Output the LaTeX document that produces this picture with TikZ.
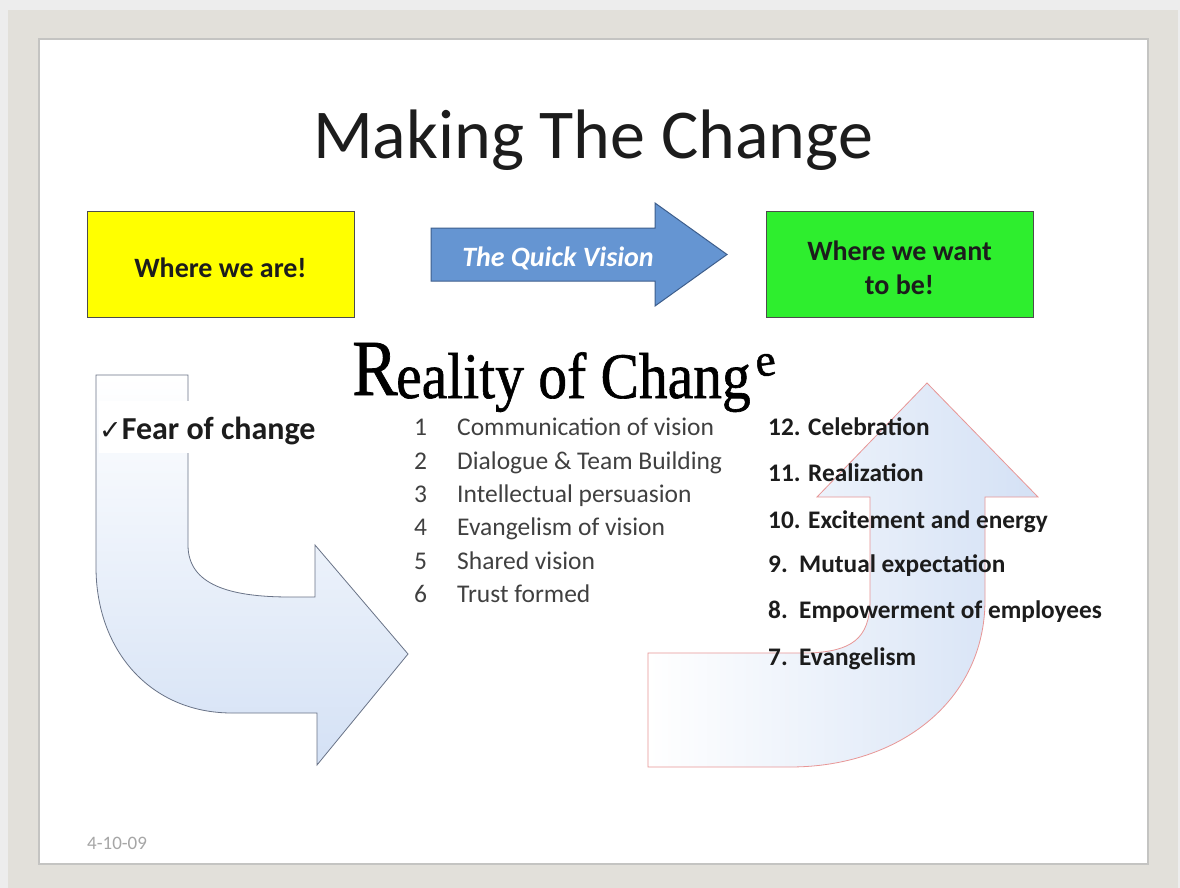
\documentclass[tikz,border=0pt]{standalone}
\usepackage{fontspec}
\setmainfont{Carlito}
\newfontfamily\symfont{DejaVu Sans}
\newfontfamily\artfont[FakeBold=1]{Liberation Serif}
\definecolor{framegray}{RGB}{226,224,218}
\definecolor{edgegray}{RGB}{196,196,194}
\definecolor{boxyellow}{RGB}{255,255,0}
\definecolor{boxgreen}{RGB}{46,238,46}
\definecolor{visionblue}{RGB}{101,149,210}
\definecolor{visionedge}{RGB}{62,94,140}
\definecolor{textdark}{RGB}{28,28,28}
\definecolor{listgray}{RGB}{64,64,64}
\definecolor{paleblue}{RGB}{212,225,245}
\definecolor{curveedge}{RGB}{105,115,135}
\definecolor{pinkedge}{RGB}{232,150,150}
% lower a line of text without changing its box
\newcommand{\lowered}[1]{\raisebox{-4pt}[\height][\depth]{#1}}
\tikzset{
  box/.style={
    rectangle,
    draw=black!70,
    line width=1pt,
    align=center,
    minimum width=267pt,
    minimum height=106pt,
    inner sep=0pt,
    text=textdark,
    font=\fontsize{28}{34}\selectfont\bfseries
  },
  bentarrow/.style={
    draw=curveedge,
    line width=0.8pt,
    top color=white,
    bottom color=paleblue
  },
  risearrow/.style={
    draw=pinkedge,
    line width=0.8pt,
    left color=white,
    right color=paleblue
  },
  artword/.style={
    anchor=base west,
    inner sep=0pt,
    text=black
  },
  stepline/.style={
    anchor=west,
    inner sep=0pt,
    text height=0.7em,
    text depth=0.2em,
    text=listgray,
    font=\fontsize{25.5}{30}\selectfont
  },
  boldline/.style={
    stepline,
    text=textdark,
    font=\fontsize{25.3}{30}\selectfont\bfseries
  }
}

\begin{document}
\begin{tikzpicture}[x=1pt,y=-1pt]
    \useasboundingbox (0,0) rectangle (1180,888);
    % frame around the slide
    \fill[black!7] (0,0) rectangle (1180,888);
    \fill[framegray] (8,10) rectangle (1178,888);
    \draw[edgegray, line width=1.5pt, fill=white] (39,39) rectangle (1148,864);

    \node[font=\fontsize{70}{80}\selectfont, text=textdark] (title) at (593,140) {Making The Change};

    \node[box, fill=boxyellow] (now) at (220.5,264) {\lowered{Where we are!}};
    \node[box, fill=boxgreen] (goal) at (899.5,264) {\lowered{Where we want}\\\lowered{to be!}};

    \draw[visionedge, line width=1pt, fill=visionblue]
      (431,228) -- (655,228) -- (655,203) -- (727,254.5) -- (655,306) -- (655,281) -- (431,281) -- cycle;
    \node[text=white, font=\fontsize{28}{34}\selectfont\bfseries\itshape] (vision) at (558,258) {The Quick Vision};

    % wordart heading: big R, stretched middle, small raised e
    \node[artword, font=\artfont\fontsize{68}{68}\selectfont] (artR) at (352,395) {\scalebox{1}[1.17]{R}};
    \node[artword, font=\artfont\fontsize{57.5}{58}\selectfont] (artmid) at (396,398) {\scalebox{1}[1.13]{eality of Chang}};
    \node[artword, font=\artfont\fontsize{46}{46}\selectfont, rotate=8] (arte) at (757,377) {e};

    % down-and-right arrow
    \draw[bentarrow] (96,375) -- (188,375) -- (188,545)
      .. controls (188,585) and (230,597) .. (290,597) -- (315,597) -- (315,545)
      -- (408,654) -- (317,765) -- (317,713) -- (232,713)
      .. controls (150,713) and (96,650) .. (96,567) -- cycle;
    \node[anchor=west, fill=white, inner sep=0pt, minimum height=52pt, text=textdark,
      font=\fontsize{32}{36}\selectfont\bfseries] (fear) at (99,427)
      {\lowered{{\symfont\fontsize{27}{30}\selectfont ✓}Fear of change}};

    % right-and-up arrow
    \draw[risearrow] (648,653) -- (810,653)
      .. controls (850,651) and (870,640) .. (870,600) -- (870,497) -- (817,497)
      -- (927,383) -- (1038,497) -- (985,497) -- (985,600)
      .. controls (985,700) and (900,767) .. (790,767) -- (648,767) -- cycle;

    \node[stepline] (s1) at (414,433) {\makebox[43pt][l]{1}Communication of vision};
    \node[stepline] (s2) at (414,467) {\makebox[43pt][l]{2}Dialogue \& Team Building};
    \node[stepline] (s3) at (414,500) {\makebox[43pt][l]{3}Intellectual persuasion};
    \node[stepline] (s4) at (414,533) {\makebox[43pt][l]{4}Evangelism of vision};
    \node[stepline] (s5) at (414,567) {\makebox[43pt][l]{5}Shared vision};
    \node[stepline] (s6) at (414,600) {\makebox[43pt][l]{6}Trust formed};

    \node[boldline] (s12) at (768,433) {12. Celebration};
    \node[boldline] (s11) at (768,479) {11. Realization};
    \node[boldline] (s10) at (768,526) {10. Excitement and energy};
    \node[boldline] (s9) at (768,570) {9.\ \ Mutual expectation};
    \node[boldline] (s8) at (768,616) {8.\ \ Empowerment of employees};
    \node[boldline] (s7) at (768,663) {7.\ \ Evangelism};

    \node[anchor=west, inner sep=0pt, text=black!35, font=\fontsize{19}{21}\selectfont] (date) at (87,843) {4-10-09};
\end{tikzpicture}
\end{document}
